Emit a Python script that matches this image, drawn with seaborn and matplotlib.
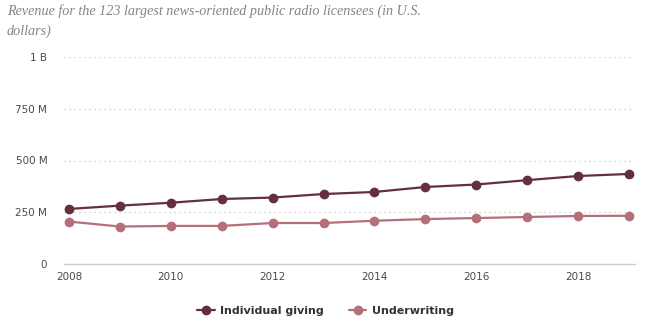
import matplotlib
matplotlib.use("Agg")
import matplotlib.pyplot as plt
import seaborn as sns
import pandas as pd
from matplotlib.ticker import FixedLocator

years = list(range(2008, 2020))
individual_giving = [266, 282, 296, 314, 321, 338, 348, 372, 384, 405, 425, 435]
underwriting = [205, 181, 184, 184, 198, 198, 209, 217, 222, 227, 232, 233]
series_names = ["Individual giving", "Underwriting"]
y_ticks = [0, 250, 500, 750, 1000]
y_tick_labels = ["0", "250 M", "500 M", "750 M", "1 B"]
x_ticks = [2008, 2010, 2012, 2014, 2016, 2018]

df = pd.DataFrame({
    "year": years * 2,
    "revenue": individual_giving + underwriting,
    "series": [series_names[0]] * len(years) + [series_names[1]] * len(years),
})

sns.set_style("white")
plt.rcParams["font.family"] = ["DejaVu Sans"]

fig = plt.figure(figsize=(6.65, 3.3), dpi=100)
ax = fig.add_axes([64 / 665, 1 - 264 / 330, (635 - 64) / 665, (264 - 57) / 330])

palette = {series_names[0]: "#63303b", series_names[1]: "#b56f78"}
sns.lineplot(data=df, x="year", y="revenue", hue="series", palette=palette,
             marker="o", markersize=7, markeredgewidth=0, linewidth=1.6,
             dashes=False, ax=ax, legend=True)

ax.set_xlim(2007.9, 2019.12)
ax.set_ylim(0, 1000)
ax.yaxis.set_major_locator(FixedLocator(y_ticks))
ax.set_yticklabels(y_tick_labels)
ax.set_xticks(x_ticks)
ax.set_xticklabels([str(x) for x in x_ticks])
ax.set_xlabel("")
ax.set_ylabel("")

for v in y_ticks[1:]:
    ax.axhline(v, color="#c8c8c8", linestyle=(0, (1, 3)), linewidth=0.9, zorder=0)

for s in ["top", "right", "left"]:
    ax.spines[s].set_visible(False)
ax.spines["bottom"].set_color("#c5ccd8")
ax.spines["bottom"].set_linewidth(1)

ax.tick_params(axis="both", length=0, labelsize=7.5, colors="#4a4a4a")
ax.tick_params(axis="y", pad=12)
ax.tick_params(axis="x", pad=6)

leg = ax.legend(loc="center", bbox_to_anchor=(0.458, -0.225), ncol=2, frameon=False,
                prop={"weight": "bold", "size": 8}, handlelength=1.6,
                columnspacing=2.2, handletextpad=0.5)
for t in leg.get_texts():
    t.set_color("#333333")

fig.text(7 / 665, 1 - 4 / 330, "Revenue for the 123 largest news-oriented public radio licensees (in U.S.\ndollars)",
         family="Liberation Serif", style="italic", fontsize=10.2, color="#858585",
         ha="left", va="top", linespacing=1.65)

fig.savefig("out.png", dpi=100)
